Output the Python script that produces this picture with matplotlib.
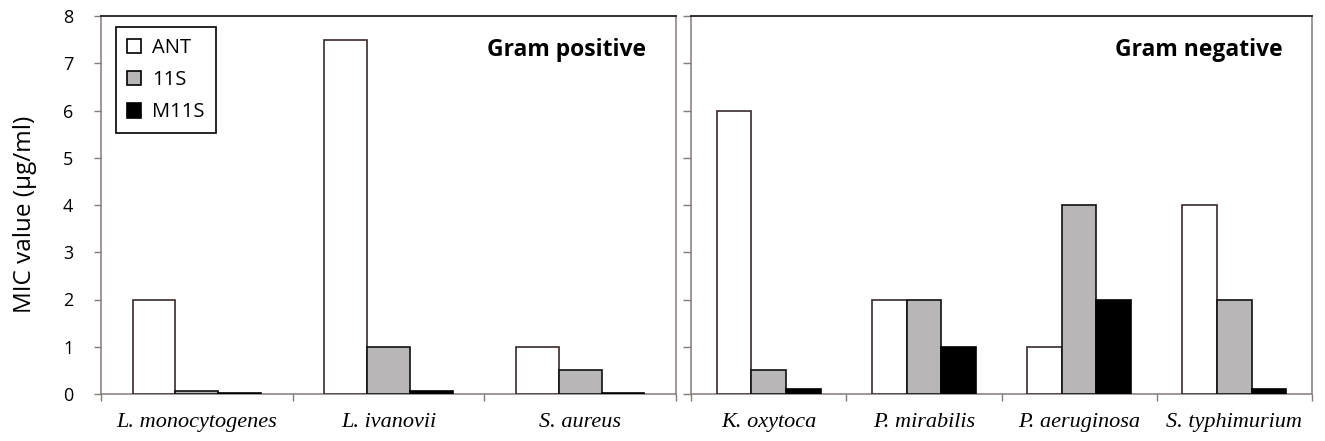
import matplotlib
matplotlib.use("Agg")
import matplotlib.pyplot as plt
from matplotlib.patches import Patch
import numpy as np

series = ["ANT", "11S", "M11S"]
pos_categories = ["L. monocytogenes", "L. ivanovii", "S. aureus"]
pos_ant = [2.0, 7.5, 1.0]
pos_11s = [0.06, 1.0, 0.5]
pos_m11s = [0.02, 0.06, 0.02]

neg_categories = ["K. oxytoca", "P. mirabilis", "P. aeruginosa", "S. typhimurium"]
neg_ant = [6.0, 2.0, 1.0, 4.0]
neg_11s = [0.5, 2.0, 4.0, 2.0]
neg_m11s = [0.1, 1.0, 2.0, 0.1]

yticks = [0, 1, 2, 3, 4, 5, 6, 7, 8]

plt.rcParams['font.family'] = ['Open Sans', 'DejaVu Sans']

W, H = 1325, 441
fig = plt.figure(figsize=(W / 100, H / 100), dpi=100)

def px_axes(x0, x1, ytop, ybot):
    return fig.add_axes([x0 / W, (H - ybot) / H, (x1 - x0) / W, (ybot - ytop) / H])

ax1 = px_axes(101, 676, 16, 394)
ax2 = px_axes(691, 1312, 16, 394)

fills = ["white", "#b8b6b6", "black"]
edges = ["#3a2a2a", "#111111", "black"]
spine_col = "#857a7a"
bw = 0.223

def draw(ax, cats, vals, title, title_x, show_labels):
    n = len(cats)
    x = np.arange(n)
    for i, v in enumerate(vals):
        ax.bar(x + (i - 1) * bw, v, width=bw, color=fills[i], edgecolor=edges[i],
               linewidth=1.2, zorder=3)
    ax.set_xlim(-0.5, n - 0.5)
    ax.set_ylim(0, 8)
    ax.set_xticks(np.arange(n + 1) - 0.5)
    ax.set_xticklabels([])
    ax.set_xticks(x, minor=True)
    ax.set_xticklabels(cats, minor=True, family=['Liberation Serif', 'DejaVu Serif'],
                       style='italic', fontsize=16)
    ax.tick_params(axis='x', which='minor', length=0, pad=14)
    ax.tick_params(axis='x', which='major', length=5, direction='out', color=spine_col, width=1)
    ax.set_yticks(yticks)
    if show_labels:
        ax.set_yticklabels([str(t) for t in yticks], fontsize=13)
        ax.tick_params(axis='y', length=5, direction='out', color=spine_col, width=1, pad=15)
    else:
        ax.set_yticklabels([])
        ax.tick_params(axis='y', length=6, direction='out', color=spine_col, width=1)
    for s in ['left', 'bottom', 'right']:
        ax.spines[s].set_color(spine_col)
        ax.spines[s].set_linewidth(1.1)
    ax.spines['top'].set_color('#222222')
    ax.spines['top'].set_linewidth(1.3)
    ax.text(title_x, 0.91, title, transform=ax.transAxes, ha='right', va='center',
            fontsize=16.5, fontweight='bold')

draw(ax1, pos_categories, [pos_ant, pos_11s, pos_m11s], "Gram positive", 0.948, True)
draw(ax2, neg_categories, [neg_ant, neg_11s, neg_m11s], "Gram negative", 0.953, False)

ax1.set_ylabel("MIC value (µg/ml)", fontsize=17.5)
ax1.yaxis.set_label_coords(-0.111, 0.474)

handles = [Patch(facecolor=fills[i], edgecolor='black', linewidth=1.2) for i in range(3)]
leg = ax1.legend(handles, series, loc='upper left', bbox_to_anchor=(0.026, 0.971),
                 borderaxespad=0, fontsize=14.5, handlelength=0.7, handleheight=0.75,
                 labelspacing=0.6, fancybox=False, framealpha=1, edgecolor='black',
                 borderpad=0.55, handletextpad=0.55)
leg.get_frame().set_linewidth(1.2)

fig.savefig("out.png", dpi=100)
